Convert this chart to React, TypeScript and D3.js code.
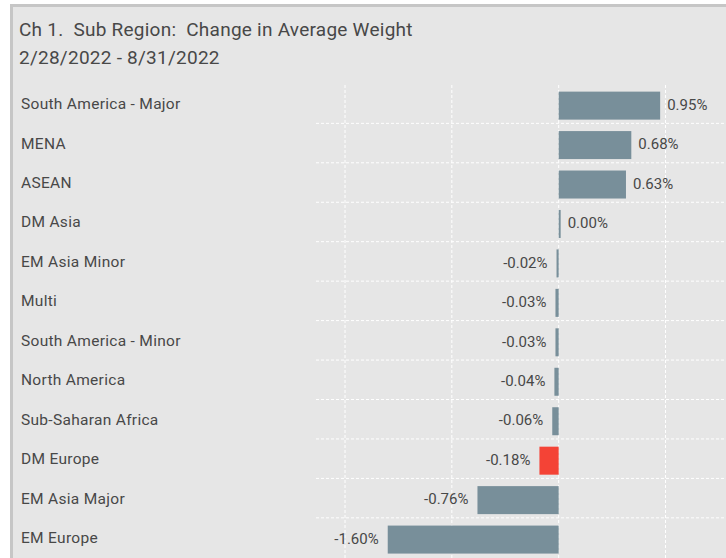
import React from "react";
import * as d3 from "d3";

const categories = [
  "South America - Major",
  "MENA",
  "ASEAN",
  "DM Asia",
  "EM Asia Minor",
  "Multi",
  "South America - Minor",
  "North America",
  "Sub-Saharan Africa",
  "DM Europe",
  "EM Asia Major",
  "EM Europe",
];
const values = [0.95, 0.68, 0.63, 0.0, -0.02, -0.03, -0.03, -0.04, -0.06, -0.18, -0.76, -1.6];
const highlight = ["DM Europe"];
const gridTicks = [-2, -1, 0, 1];
const titleLines = ["Ch 1.  Sub Region:  Change in Average Weight", "2/28/2022 - 8/31/2022"];

const W = 726;
const H = 558;
const FONT = "Roboto, 'Noto Sans', sans-serif";

export default function App() {
  const x = d3.scaleLinear().domain([-2, 1]).range([345, 665.5]);
  const y = d3
    .scaleBand<string>()
    .domain(categories)
    .range([83.9, 83.9 + 39.45 * categories.length])
    .paddingInner(0)
    .paddingOuter(0);
  const step = y.step();
  const barH = 28;
  const fmt = (v: number) => v.toFixed(2) + "%";

  return (
    <svg
      width={W}
      height={H}
      style={{ position: "absolute", left: 0, top: 0, background: "#fff" }}
    >
      <rect x={11.5} y={5.5} width={900} height={900} fill="#e6e6e6" stroke="#c6c6c6" strokeWidth={3} />
      {titleLines.map((t, i) => (
        <text
          key={i}
          x={19}
          y={35.5 + i * 28}
          fontFamily={FONT}
          fontSize={19}
          letterSpacing={0.25}
          fill="#484848"
          style={{ whiteSpace: "pre" }}
        >
          {t}
        </text>
      ))}
      {/* horizontal grid */}
      {categories.slice(1).map((c) => (
        <line
          key={"h" + c}
          x1={316}
          x2={W}
          y1={y(c)!}
          y2={y(c)!}
          stroke="#fff"
          strokeWidth={1}
          strokeDasharray="3,2"
        />
      ))}
      {/* vertical grid */}
      {gridTicks.map((t) => (
        <line
          key={"v" + t}
          x1={x(t)}
          x2={x(t)}
          y1={85}
          y2={H}
          stroke="#fff"
          strokeWidth={1}
          strokeDasharray="3,2"
        />
      ))}
      {categories.map((c, i) => {
        const v = values[i];
        const cy = y(c)! + step / 2;
        const x0 = x(0);
        const xv = x(v);
        let bx = Math.min(x0, xv);
        let bw = Math.abs(xv - x0);
        if (bw < 2) {
          bw = 2;
          if (v < 0) bx = x0 - 2;
        }
        const fill = highlight.includes(c) ? "#f44336" : "#788f9a";
        const pos = v >= 0;
        return (
          <g key={c}>
            <text
              x={21}
              y={cy}
              dy="0.35em"
              fontFamily={FONT}
              fontSize={15.5}
              letterSpacing={0.3}
              fill="#484848"
            >
              {c}
            </text>
            <rect x={bx} y={cy - barH / 2 + 2} width={bw} height={barH} fill={fill} />
            <text
              x={pos ? bx + bw + 7 : bx - 9}
              y={cy + 1}
              dy="0.35em"
              textAnchor={pos ? "start" : "end"}
              fontFamily={FONT}
              fontSize={15}
              fill="#484848"
            >
              {fmt(v)}
            </text>
          </g>
        );
      })}
    </svg>
  );
}
